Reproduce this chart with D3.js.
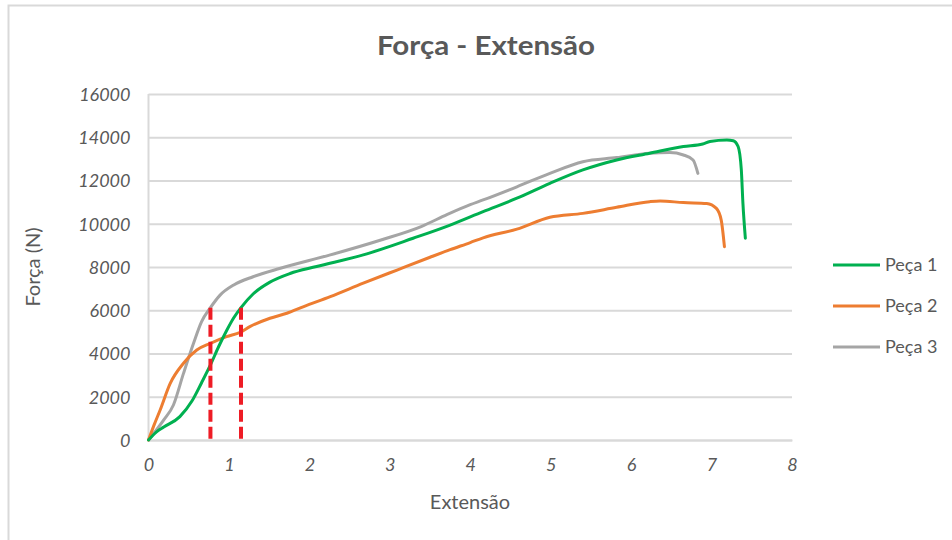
<!DOCTYPE html>
<html>
<head>
<meta charset="utf-8">
<script src="https://cdn.jsdelivr.net/npm/d3@7/dist/d3.min.js"></script>
<style>
  html, body { margin: 0; padding: 0; background: #fff; }
  svg { display: block; }
  text { font-family: Lato, "Open Sans", sans-serif; fill: #595959; }
</style>
</head>
<body>
<svg id="chart" width="952" height="540"></svg>
<script>
// Extension values (x) and force values in N (y) for each specimen
const peca1Ext = [0, 0.1, 0.19, 0.39, 0.54, 0.66, 0.77, 0.87, 0.97, 1.06, 1.15, 1.30, 1.51, 1.76, 2.09, 2.67, 3.29, 3.75, 4.16, 4.58, 4.99, 5.40, 5.82, 6.23, 6.65, 6.89, 6.98, 7.19, 7.27, 7.33, 7.37, 7.39, 7.42];
const peca1Forca = [0, 380, 600, 1080, 1800, 2650, 3470, 4300, 5050, 5650, 6120, 6750, 7300, 7700, 8020, 8560, 9330, 9940, 10560, 11180, 11870, 12490, 12950, 13260, 13570, 13690, 13800, 13870, 13840, 13570, 12490, 10940, 9330];

const peca2Ext = [0, 0.07, 0.145, 0.27, 0.435, 0.6, 0.77, 0.97, 1.14, 1.26, 1.51, 1.72, 1.93, 2.26, 2.67, 3.09, 3.5, 3.75, 4.0, 4.16, 4.58, 4.99, 5.40, 5.82, 6.23, 6.36, 6.65, 6.94, 7.06, 7.12, 7.16];
const peca2Forca = [0, 700, 1390, 2620, 3550, 4160, 4470, 4780, 4980, 5240, 5630, 5860, 6170, 6630, 7250, 7860, 8450, 8800, 9130, 9350, 9750, 10300, 10480, 10760, 11020, 11050, 10980, 10940, 10710, 10170, 8940];

const peca3Ext = [0, 0.19, 0.31, 0.435, 0.56, 0.66, 0.77, 0.89, 1.06, 1.30, 1.64, 2.26, 2.89, 3.39, 3.71, 4.0, 4.16, 4.58, 4.99, 5.40, 5.82, 6.23, 6.48, 6.65, 6.77, 6.83];
const peca3Forca = [0, 930, 1620, 3080, 4470, 5470, 6120, 6700, 7170, 7550, 7940, 8560, 9250, 9870, 10420, 10880, 11100, 11710, 12330, 12870, 13060, 13260, 13290, 13180, 12950, 12330];

const seriesNames = ["Peça 1", "Peça 2", "Peça 3"];
const seriesColors = ["#00b050", "#ed7d31", "#a5a5a5"];

// Dashed markers: extension positions and the force they reach
const markerExt = [0.77, 1.15];
const markerForca = 6120;

const xTicks = [0, 1, 2, 3, 4, 5, 6, 7, 8];
const yTicks = [0, 2000, 4000, 6000, 8000, 10000, 12000, 14000, 16000];

const titulo = "Força - Extensão";
const tituloX = "Extensão";
const tituloY = "Força (N)";

const svg = d3.select("#chart");

// chart frame
svg.append("rect")
  .attr("x", 8.5).attr("y", 5.5)
  .attr("width", 960).attr("height", 560)
  .attr("fill", "none").attr("stroke", "#d9d9d9").attr("stroke-width", 2);

const plot = { left: 148.5, right: 792, top: 94, bottom: 440 };

const x = d3.scaleLinear().domain([0, 8]).range([plot.left, plot.right]);
const y = d3.scaleLinear().domain([0, 16000]).range([plot.bottom, plot.top]);

// horizontal gridlines
const yAxis = d3.axisLeft(y).tickValues(yTicks).tickSize(-(plot.right - plot.left)).tickPadding(18).tickFormat(d3.format("d"));
const gy = svg.append("g").attr("transform", `translate(${plot.left},0)`).call(yAxis);
gy.select(".domain").remove();
gy.selectAll(".tick line").attr("stroke", "#d9d9d9").attr("stroke-width", 2);
gy.selectAll(".tick text")
  .attr("font-family", "Lato, sans-serif")
  .attr("font-style", "italic")
  .attr("font-size", 18)
  .attr("fill", "#595959")
  .attr("dy", "0.35em");

// vertical axis line
svg.append("line")
  .attr("x1", plot.left).attr("x2", plot.left)
  .attr("y1", plot.top).attr("y2", plot.bottom)
  .attr("stroke", "#d9d9d9").attr("stroke-width", 2);

const xAxis = d3.axisBottom(x).tickValues(xTicks).tickSize(0).tickPadding(18).tickFormat(d3.format("d"));
const gx = svg.append("g").attr("transform", `translate(0,${plot.bottom})`).call(xAxis);
gx.select(".domain").attr("stroke", "#d9d9d9").attr("stroke-width", 2);
gx.selectAll(".tick text")
  .attr("font-family", "Lato, sans-serif")
  .attr("font-style", "italic")
  .attr("font-size", 18)
  .attr("fill", "#595959");

// series lines
const line = d3.line()
  .x(d => x(d[0]))
  .y(d => y(d[1]))
  .curve(d3.curveMonotoneX);

const seriesData = [
  d3.zip(peca1Ext, peca1Forca),
  d3.zip(peca2Ext, peca2Forca),
  d3.zip(peca3Ext, peca3Forca)
];

// draw order: grey and orange under green
[2, 1, 0].forEach(i => {
  svg.append("path")
    .datum(seriesData[i])
    .attr("d", line)
    .attr("fill", "none")
    .attr("stroke", seriesColors[i])
    .attr("stroke-width", 3)
    .attr("stroke-linejoin", "round")
    .attr("stroke-linecap", "round");
});

// red dashed verticals
svg.selectAll(".marker")
  .data(markerExt)
  .join("line")
  .attr("class", "marker")
  .attr("x1", d => x(d)).attr("x2", d => x(d))
  .attr("y1", y(markerForca)).attr("y2", y(0))
  .attr("stroke", "#ee1c25")
  .attr("stroke-width", 4)
  .attr("stroke-dasharray", "12 5");

// title
svg.append("text")
  .attr("x", 486).attr("y", 55)
  .attr("text-anchor", "middle")
  .attr("font-size", 27)
  .attr("font-weight", "bold")
  .attr("textLength", 218)
  .attr("lengthAdjust", "spacingAndGlyphs")
  .text(titulo);

// axis titles
svg.append("text")
  .attr("x", 470).attr("y", 509)
  .attr("text-anchor", "middle")
  .attr("font-size", 20)
  .text(tituloX);

svg.append("text")
  .attr("transform", "translate(40,267) rotate(-90)")
  .attr("text-anchor", "middle")
  .attr("font-size", 20)
  .text(tituloY);

// legend
const legend = svg.append("g");
seriesNames.forEach((name, i) => {
  const ly = 265 + i * 41;
  legend.append("line")
    .attr("x1", 833).attr("x2", 880)
    .attr("y1", ly).attr("y2", ly)
    .attr("stroke", seriesColors[i]).attr("stroke-width", 3);
  legend.append("text")
    .attr("x", 885).attr("y", ly)
    .attr("dy", "0.35em")
    .attr("font-size", 18)
    .text(name);
});
</script>
</body>
</html>
